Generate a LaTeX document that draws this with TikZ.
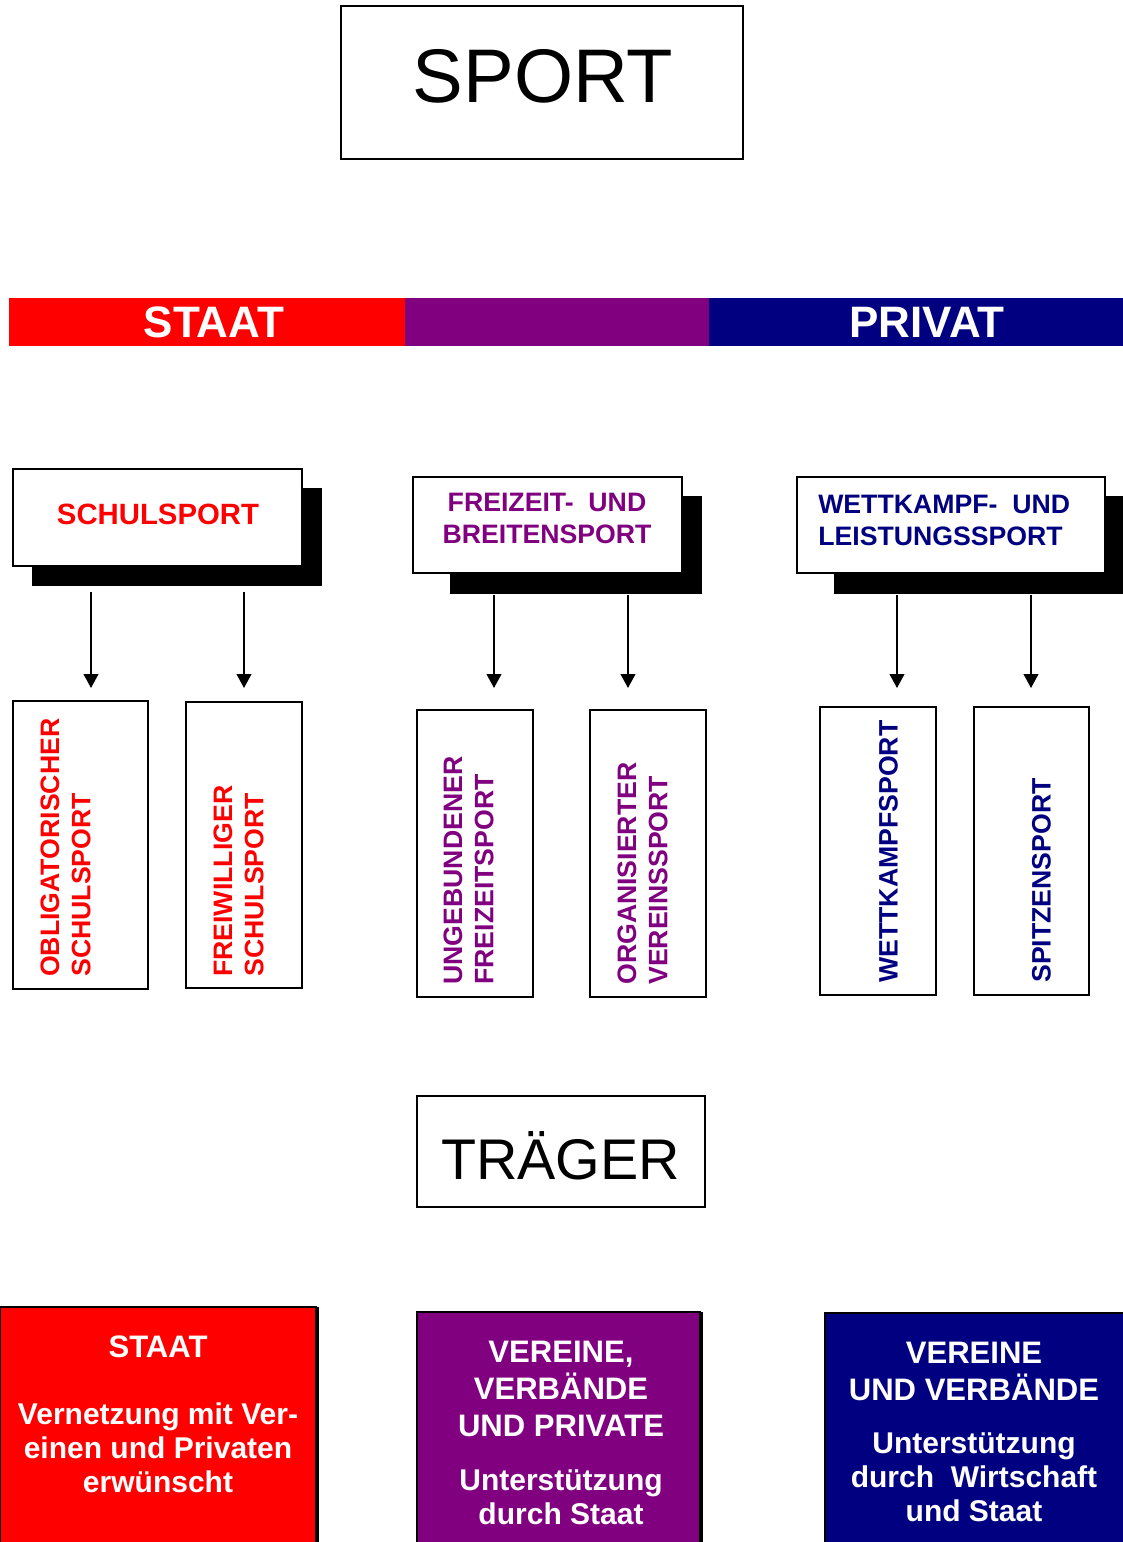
\documentclass[tikz,border=0pt]{standalone}
\usepackage{fontspec}
\setmainfont{Liberation Sans}
\usetikzlibrary{positioning, fit, arrows.meta}
\definecolor{staatred}{RGB}{255,0,0}
\definecolor{mixpurple}{RGB}{128,0,128}
\definecolor{privatnavy}{RGB}{0,0,128}
\tikzstyle{whitebox} = [rectangle, draw=black, line width=1.5pt, fill=white, inner sep=0pt]
\tikzstyle{blackshade} = [rectangle, fill=black, inner sep=0pt]
\tikzstyle{colorband} = [rectangle, inner sep=0pt]
\tikzstyle{bandtext} = [text=white, font=\fontsize{33pt}{36pt}\selectfont\bfseries]
\tikzstyle{headtext} = [inner sep=0pt, font=\fontsize{20pt}{24pt}\selectfont\bfseries]
\tikzstyle{vtext} = [rotate=90, anchor=west, align=left, inner sep=0pt, font=\fontsize{20pt}{23.5pt}\selectfont\bfseries]
\tikzstyle{tragbox} = [rectangle, draw=black, line width=1.5pt, inner sep=0pt]
\tikzstyle{tragtitle} = [text=white, align=center, anchor=north, inner sep=0pt, font=\fontsize{23.3pt}{27.75pt}\selectfont\bfseries]
\tikzstyle{tragbody} = [text=white, align=center, anchor=north, inner sep=0pt, font=\fontsize{22.5pt}{25.5pt}\selectfont\bfseries]
\tikzstyle{arrow} = [line width=1.5pt, -{Triangle[length=10.5pt, width=11pt]}]

\begin{document}
\begin{tikzpicture}[x=0.75pt, y=-0.75pt]
    \useasboundingbox (0,0) rectangle (1123,1542);

    % title
    \node (sport) [whitebox, fit={(341,6) (743,159)}] {};
    \node (sportText) [anchor=base, font=\fontsize{57pt}{60pt}\selectfont] at (543,102) {SPORT};

    % staat / privat band
    \node (staatBand) [colorband, fill=staatred, fit={(9,298) (405,346)}] {};
    \node (mixBand) [colorband, fill=mixpurple, fit={(405,298) (709,346)}] {};
    \node (privatBand) [colorband, fill=privatnavy, fit={(709,298) (1123,346)}] {};
    \node (staatText) [bandtext] at (214,322) {STAAT};
    \node (privatText) [bandtext] at (927,322) {PRIVAT};

    % sport areas
    \node (schulShade) [blackshade, fit={(32,488) (322,586)}] {};
    \node (schul) [whitebox, fit={(13,469) (302,566)}] {};
    \node (schulText) [headtext, text=staatred, font=\fontsize{22pt}{24pt}\selectfont\bfseries] at (158,514) {SCHULSPORT};

    \node (freiShade) [blackshade, fit={(450,496) (702,594)}] {};
    \node (frei) [whitebox, fit={(413,477) (682,573)}] {};
    \node (freiText) [headtext, text=mixpurple, align=center, anchor=north] at (547,493) {FREIZEIT-~~UND\\BREITENSPORT};

    \node (wettShade) [blackshade, fit={(834,496) (1123,594)}] {};
    \node (wett) [whitebox, fit={(797,477) (1105,573)}] {};
    \node (wettText) [headtext, text=privatnavy, align=left, anchor=north west] at (818,495) {WETTKAMPF-~~UND\\LEISTUNGSSPORT};

    % sub areas
    \node (obl) [whitebox, fit={(13,701) (148,989)}] {};
    \node (oblText) [vtext, text=staatred] at (65.5,977) {OBLIGATORISCHER\\SCHULSPORT};
    \node (frw) [whitebox, fit={(186,702) (302,988)}] {};
    \node (frwText) [vtext, text=staatred] at (238.5,977) {FREIWILLIGER\\SCHULSPORT};
    \node (ungeb) [whitebox, fit={(417,710) (533,997)}] {};
    \node (ungebText) [vtext, text=mixpurple] at (468.5,985) {UNGEBUNDENER\\FREIZEITSPORT};
    \node (organ) [whitebox, fit={(590,710) (706,997)}] {};
    \node (organText) [vtext, text=mixpurple] at (642.5,985) {ORGANISIERTER\\VEREINSSPORT};
    \node (wk) [whitebox, fit={(820,707) (936,995)}] {};
    \node (wkText) [vtext, text=privatnavy] at (888.5,983) {WETTKAMPFSPORT};
    \node (spitze) [whitebox, fit={(974,707) (1089,995)}] {};
    \node (spitzeText) [vtext, text=privatnavy] at (1041.5,983) {SPITZENSPORT};

    \foreach \ax/\ay [count=\i] in {91/592, 244/592, 494/595, 628/595, 897/595, 1031/595} {
        \coordinate (top\i) at (\ax,\ay);
        \coordinate (end\i) at (\ax,688);
        \draw [arrow] (top\i) -- (end\i);
    }

    % traeger
    \node (traeger) [whitebox, fit={(417,1096) (705,1207)}] {};
    \node (traegerText) [anchor=base, font=\fontsize{43pt}{46pt}\selectfont] at (560.5,1179) {TRÄGER};

    \node (staatShade) [blackshade, fit={(4,1307) (319,1550)}] {};
    \node (staatBox) [tragbox, fill=staatred, fit={(0,1307) (316,1550)}] {};
    \node (staatTitle) [tragtitle] at (158,1336) {STAAT};
    \node (staatBody) [tragbody] at (158,1402) {Vernetzung mit Ver-\\einen und Privaten\\erwünscht};

    \node (vereinShade) [blackshade, fit={(421,1312) (703,1550)}] {};
    \node (vereinBox) [tragbox, fill=mixpurple, fit={(417,1312) (700,1550)}] {};
    \node (vereinTitle) [tragtitle] at (561,1341) {VEREINE,\\VERBÄNDE\\UND PRIVATE};
    \node (vereinBody) [tragbody] at (561,1469) {Unterstützung\\durch Staat};

    \node (verbandBox) [tragbox, fill=privatnavy, fit={(825,1313) (1126,1550)}] {};
    \node (verbandTitle) [tragtitle] at (974,1342) {VEREINE\\UND VERBÄNDE};
    \node (verbandBody) [tragbody] at (974,1432) {Unterstützung\\durch~~Wirtschaft\\und Staat};
\end{tikzpicture}
\end{document}
